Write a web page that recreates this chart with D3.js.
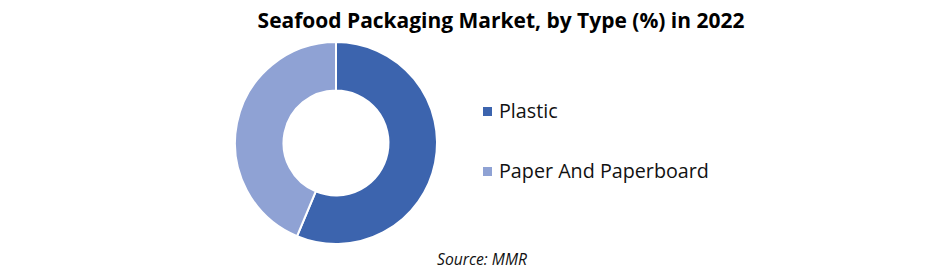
<!DOCTYPE html>
<html>
<head>
<meta charset="utf-8">
<script src="https://cdn.jsdelivr.net/npm/d3@7"></script>
<style>
  body { margin: 0; background: #fff; }
  text { font-family: "Open Sans", "Noto Sans", sans-serif; }
</style>
</head>
<body>
<svg id="chart" width="941" height="275"></svg>
<script>
// data
let categories = ['Plastic', 'Paper And Paperboard'];
let shares = [56.3, 43.7];
let colors = ['#3c64ae', '#8fa2d4'];

let title = 'Seafood Packaging Market, by Type (%) in 2022';
let source = 'Source: MMR';

let svg = d3.select('#chart');
let [cx, cy] = [336, 143];
let [r0, r1] = [52.5, 101];

let pie = d3.pie().sort(null).value(d => d.value);
let arc = d3.arc().innerRadius(r0).outerRadius(r1);
let slices = pie(categories.map((c, i) => ({ name: c, value: shares[i], color: colors[i] })));

svg.append('g')
  .attr('transform', `translate(${cx},${cy})`)
  .selectAll('path')
  .data(slices)
  .join('path')
  .attr('d', arc)
  .attr('fill', d => d.data.color)
  .attr('stroke', '#fff')
  .attr('stroke-width', 2);

// shrink/grow a text so it spans the wanted width, returns the size used
function fit(sel, width) {
  let w = sel.node().getComputedTextLength();
  let fs = parseFloat(sel.style('font-size')) * width / w;
  sel.style('font-size', fs + 'px');
  return fs;
}

fit(svg.append('text')
  .attr('x', 501).attr('y', 28)
  .attr('text-anchor', 'middle')
  .attr('font-weight', 'bold')
  .attr('fill', '#000')
  .style('font-size', '20px')
  .text(title), 487);

let legend = svg.append('g')
  .selectAll('g')
  .data(slices)
  .join('g')
  .attr('transform', (d, i) => `translate(483,${107 + i * 60})`);

legend.append('rect')
  .attr('width', 9).attr('height', 9)
  .attr('fill', d => d.data.color);

let labels = legend.append('text')
  .attr('x', 16).attr('y', 11)
  .attr('fill', '#111')
  .style('font-size', '18px')
  .text(d => d.data.name);
let fs = fit(d3.select(labels.nodes()[1]), 210);
labels.style('font-size', fs + 'px');

fit(svg.append('text')
  .attr('x', 482).attr('y', 265)
  .attr('text-anchor', 'middle')
  .attr('font-style', 'italic')
  .attr('fill', '#111')
  .style('font-size', '14px')
  .text(source), 90);
</script>
</body>
</html>
